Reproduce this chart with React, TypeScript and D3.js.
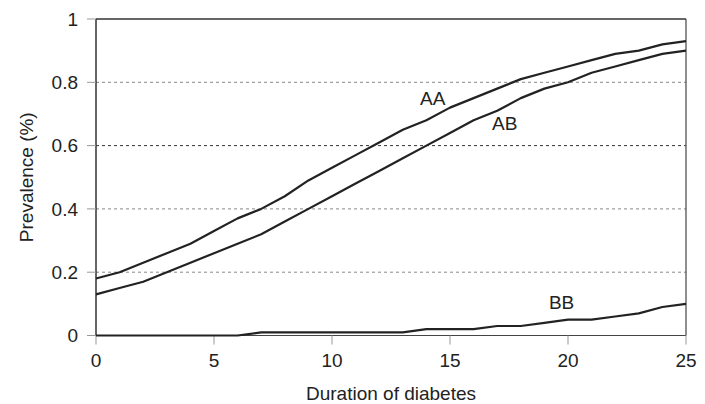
import React from "react";
import * as d3 from "d3";

const years = d3.range(0, 26);
const aa = [0.18, 0.2, 0.23, 0.26, 0.29, 0.33, 0.37, 0.4, 0.44, 0.49, 0.53, 0.57, 0.61, 0.65, 0.68, 0.72, 0.75, 0.78, 0.81, 0.83, 0.85, 0.87, 0.89, 0.9, 0.92, 0.93];
const ab = [0.13, 0.15, 0.17, 0.2, 0.23, 0.26, 0.29, 0.32, 0.36, 0.4, 0.44, 0.48, 0.52, 0.56, 0.6, 0.64, 0.68, 0.71, 0.75, 0.78, 0.8, 0.83, 0.85, 0.87, 0.89, 0.9];
const bb = [0, 0, 0, 0, 0, 0, 0, 0.01, 0.01, 0.01, 0.01, 0.01, 0.01, 0.01, 0.02, 0.02, 0.02, 0.03, 0.03, 0.04, 0.05, 0.05, 0.06, 0.07, 0.09, 0.1];
const xTicks = [0, 5, 10, 15, 20, 25];
const yTicks = [0, 0.2, 0.4, 0.6, 0.8, 1];
const seriesLabels = [
  { name: "AA", x: 13.73, y: 0.75 },
  { name: "AB", x: 16.78, y: 0.671 },
  { name: "BB", x: 19.19, y: 0.104 },
];

export default function App() {
  const W = 705, H = 404;
  const m = { left: 96, right: 19, top: 19, bottom: 68.5 };
  const x = d3.scaleLinear().domain([0, 25]).range([m.left, W - m.right]);
  const y = d3.scaleLinear().domain([0, 1]).range([H - m.bottom, m.top]);
  const line = d3.line<number>().x((_, i) => x(years[i])).y((d) => y(d));
  const font = "'Liberation Sans', Arial, sans-serif";
  const fs = 19;

  return (
    <svg width={W} height={H} style={{ position: "absolute", left: 0, top: 0, background: "#fff" }} fontFamily={font}>
      {/* grid */}
      {[0.2, 0.4, 0.6, 0.8].map((t) => (
        <line key={t} x1={x(0)} x2={x(25)} y1={y(t)} y2={y(t)}
          stroke={t === 0.6 ? "#333" : "#888"} strokeWidth={1} strokeDasharray="3,3" />
      ))}
      {/* frame */}
      <line x1={x(0)} x2={x(25)} y1={y(1)} y2={y(1)} stroke="#333" strokeWidth={1.5} />
      <line x1={x(25)} x2={x(25)} y1={y(1)} y2={y(0)} stroke="#444" strokeWidth={1.2} />
      <line x1={x(0)} x2={x(0)} y1={y(1)} y2={y(0)} stroke="#333" strokeWidth={1.5} />
      <line x1={x(0)} x2={x(25)} y1={y(0)} y2={y(0)} stroke="#444" strokeWidth={1.2} />
      {/* y ticks */}
      {yTicks.map((t) => (
        <g key={t}>
          <line x1={x(0) - 9} x2={x(0)} y1={y(t)} y2={y(t)} stroke="#999" strokeWidth={1} />
          <text x={x(0) - 18} y={y(t)} dy="0.35em" textAnchor="end" fontSize={fs} fill="#222">{t}</text>
        </g>
      ))}
      {/* x ticks */}
      {xTicks.map((t) => (
        <g key={t}>
          <line x1={x(t)} x2={x(t)} y1={y(0)} y2={y(0) + 9} stroke="#999" strokeWidth={1} />
          <text x={x(t)} y={y(0) + 25} dy="0.35em" textAnchor="middle" fontSize={fs} fill="#222">{t}</text>
        </g>
      ))}
      {/* series */}
      {[aa, ab, bb].map((s, i) => (
        <path key={i} d={line(s) ?? ""} fill="none" stroke="#222" strokeWidth={2.2} strokeLinejoin="round" />
      ))}
      {seriesLabels.map((l) => (
        <text key={l.name} x={x(l.x)} y={y(l.y)} dy="0.35em" fontSize={fs} fill="#222">{l.name}</text>
      ))}
      <text x={391} y={393} dy="0.35em" textAnchor="middle" fontSize={fs} fill="#222">Duration of diabetes</text>
      <text transform={`translate(26,${(m.top + H - m.bottom) / 2}) rotate(-90)`} dy="0.35em" textAnchor="middle" fontSize={fs} fill="#222">Prevalence (%)</text>
    </svg>
  );
}
